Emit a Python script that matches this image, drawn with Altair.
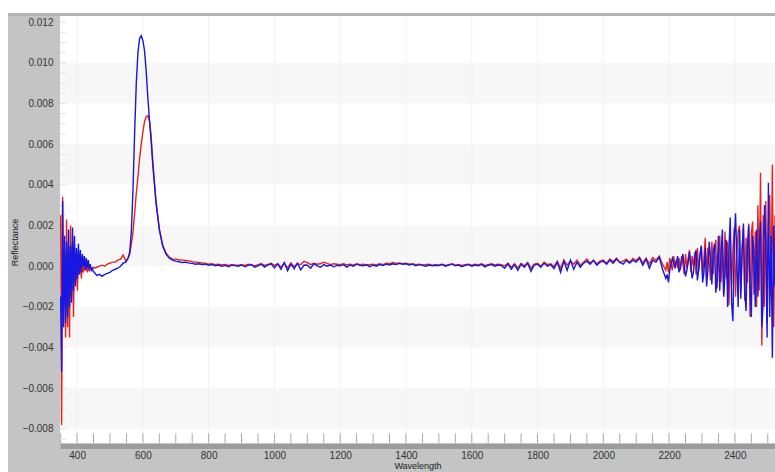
import altair as alt
import pandas as pd

# ---------------- data (reflectance values in units of 1e-5) ----------------
wl_a = list(range(350, 450, 3))          # noisy start
wl_b = list(range(452, 549, 8))          # pre-peak baseline
wl_c = [555, 560, 565, 570, 575, 580, 585, 590, 595, 600, 605, 610, 615, 620,
        625, 630, 640, 650, 660, 670, 680, 690]   # peak
wl_d = list(range(700, 2200, 10))        # flat middle
wl_e = list(range(2194, 2523, 4))        # noisy end

blue_a = [-150, -520, 320, -300, 150, -280, 120, -250, 180, -200,
          100, -180, 190, -120, 150, -100, 90, -60, 110, -40,
          80, -30, 60, 0, 50, -20, 40, -10, 30, -15,
          10, -20, -10, -25]
red_a = [250, -780, 340, -200, 80, -350, 230, -300, 100, -350,
         200, -150, 120, -250, 80, -80, 40, -120, 60, -40,
         30, -60, 20, -30, 10, -20, 0, -30, -10, -20,
         -5, -15, -10, -5]

blue_b = [-30, -45, -40, -50, -40, -35, -30, -20, -15, -10, 0, 15, 20]
red_b = [-10, -5, 0, 5, 0, 10, 15, 20, 20, 30, 35, 55, 25]

blue_c = [40, 70, 170, 380, 660, 900, 1050, 1120, 1133, 1110, 1060, 960, 830, 720,
          620, 500, 310, 180, 100, 60, 40, 30]
red_c = [40, 60, 110, 170, 260, 360, 440, 530, 600, 660, 710, 735, 740, 715,
         640, 520, 320, 185, 105, 65, 45, 35]

blue_d = [25, 22, 18, 20, 15, 14, 10, 12, 8, 10,
          5, 8, 2, 6, 0, 4, -2, 5, 3, 0,
          6, -3, 4, 8, -5, 2, 10, -4, 6, 12,
          -8, 12, -15, 18, -22, 10, -12, 15, -18, 6,
          5, -10, 12, 2, -5, 8, 0, 6, -3, 4,
          2, 8, -4, 6, 0, 10, 4, 2, 7, -2,
          5, 0, 8, 3, 10, 6, 12, 8, 14, 10,
          12, 6, 10, 2, 8, 4, 0, 6, 2, 5,
          3, 8, 0, 5, 10, 2, 6, -2, 4, 8,
          0, 6, 2, 9, -3, 5, 8, 0, 6, 3,
          -10, 12, -15, 8, -20, 10, -5, 15, -25, 5,
          10, -5, 15, 0, 8, -12, 20, -30, 25, -20,
          30, -15, 20, -5, 15, 25, 10, 30, 5, 20,
          25, 10, 30, 15, 35, 20, 10, 28, 15, 30,
          20, 40, 5, 35, -10, 30, 20, 45, -15, -60]
red_d = [35, 32, 30, 28, 26, 22, 20, 18, 16, 14,
         10, 12, 8, 10, 6, 9, 4, 8, 6, 5,
         8, 4, 10, 6, 2, 8, 12, 4, 9, 14,
         4, 12, -4, 14, -8, 16, -2, 12, 8, 24,
         18, 8, 15, 10, 12, 20, 14, 8, 12, 10,
         8, 12, 6, 10, 5, 12, 8, 10, 6, 8,
         10, 6, 12, 8, 15, 12, 18, 14, 16, 12,
         15, 10, 12, 8, 10, 6, 8, 10, 5, 8,
         6, 10, 4, 8, 12, 5, 9, 4, 8, 10,
         5, 10, 6, 12, 4, 8, 12, 6, 10, 8,
         2, 15, -5, 12, -8, 14, 2, 18, -10, 10,
         15, 0, 20, 8, 12, -2, 25, -10, 30, 5,
         25, 10, 30, 5, 20, 35, 15, 28, 12, 25,
         30, 15, 35, 22, 40, 18, 25, 35, 20, 38,
         28, 45, 15, 40, 10, 42, 30, 50, 10, -20]

blue_e = [-40, -80, -20, 10, 40, 20, -10, 20, 50, -30,
          -10, 30, 60, 0, -50, -20, 20, 70, 10, -60,
          -30, 40, 80, -70, -20, 50, 100, -80, -30, 90,
          -100, -20, 120, 40, -90, 70, 110, -130, -60, 150,
          -120, 60, 180, -150, -40, 130, -200, 90, 240, -180,
          -270, 120, 260, 40, -200, 180, -160, 60, 210, -120,
          -220, 90, 200, -100, -250, 150, 60, -200, 180, -150,
          100, 220, -300, -180, 300, 120, -350, 410, -250, 150,
          -450, 200, -100]
red_e = [20, -30, 40, 10, -20, 50, 0, 30, -10, 40,
         -20, 50, 10, -40, 60, -10, 40, 80, -30, 50,
         0, 70, -40, 90, -20, 60, 100, -50, 40, 140,
         -60, 90, 20, -70, 120, -40, 80, 130, -110, 60,
         150, -80, 100, -140, 170, -60, 120, -190, 140, -100,
         80, 190, -150, 60, 170, 200, -120, 90, 190, -170,
         140, -80, 210, -250, 160, 220, -140, 170, -200, 300,
         -120, 460, -390, 250, -200, 320, -280, 200, 350, -150,
         500, -300, 250]

x_ticks = [400, 600, 800, 1000, 1200, 1400, 1600, 1800, 2000, 2200, 2400]
y_ticks = [-0.008, -0.006, -0.004, -0.002, 0.0, 0.002, 0.004, 0.006, 0.008, 0.010, 0.012]
band_lo = [0.008, 0.004, 0.000, -0.004, -0.008]
band_hi = [0.010, 0.006, 0.002, -0.002, -0.006]
x_minor = list(range(350, 2501, 50))
y_minor = [round(-0.0085 + 0.0005 * i, 5) for i in range(42)]

X_DOM = [348, 2522]
Y_DOM = [-0.00869, 0.0123]

wl = wl_a + wl_b + wl_c + wl_d + wl_e
blue = blue_a + blue_b + blue_c + blue_d + blue_e
red = red_a + red_b + red_c + red_d + red_e
assert len(wl) == len(blue) == len(red), (len(wl), len(blue), len(red))

df_blue = pd.DataFrame({"wavelength": wl, "value": [v * 1e-5 for v in blue]})
df_red = pd.DataFrame({"wavelength": wl, "value": [v * 1e-5 for v in red]})
df_bands = pd.DataFrame({"lo": band_lo, "hi": band_hi, "x0": X_DOM[0], "x1": X_DOM[1]})
df_grid = pd.DataFrame({"wavelength": x_ticks})
df_xminor = pd.DataFrame({"wavelength": x_minor, "y0": Y_DOM[0], "y1": -0.00822})
df_yminor = pd.DataFrame({"value": y_minor, "x0": X_DOM[0], "x1": 366})

W, H = 715, 427
FONT = "Liberation Sans"

xscale = alt.Scale(domain=X_DOM, nice=False, zero=False)
yscale = alt.Scale(domain=Y_DOM, nice=False, zero=False)

x_axis = alt.Axis(values=x_ticks, format="d", title="Wavelength", grid=False,
                  ticks=False, domain=True, domainColor="#9c9c9c", domainWidth=5,
                  offset=3, labelPadding=4, labelFontSize=10, labelColor="#333333",
                  labelFont=FONT, titleFont=FONT, titleFontSize=9,
                  titleFontWeight="normal", titleColor="#222222", titlePadding=1)
y_axis = alt.Axis(values=y_ticks, format=".3f", title="Reflectance", grid=False,
                  ticks=False, domain=False, labelPadding=7, labelFontSize=10,
                  labelColor="#333333", labelFont=FONT, titleFont=FONT,
                  titleFontSize=9, titleFontWeight="normal", titleColor="#222222",
                  titlePadding=3, titleY=226)

bands = alt.Chart(df_bands).mark_rect(color="#f7f7f7").encode(
    x=alt.X("x0:Q", scale=xscale, axis=x_axis),
    x2="x1:Q",
    y=alt.Y("lo:Q", scale=yscale, axis=y_axis),
    y2="hi:Q",
)

grid = alt.Chart(df_grid).mark_rule(color="#f1f1f1", strokeWidth=1).encode(
    x=alt.X("wavelength:Q", scale=xscale, axis=x_axis),
)

xminor = alt.Chart(df_xminor).mark_rule(color="#a9a9a9", strokeWidth=1).encode(
    x=alt.X("wavelength:Q", scale=xscale, axis=x_axis),
    y=alt.Y("y0:Q", scale=yscale, axis=y_axis),
    y2="y1:Q",
)

yminor = alt.Chart(df_yminor).mark_rule(color="#e0e0e0", strokeWidth=1).encode(
    x=alt.X("x0:Q", scale=xscale, axis=x_axis),
    x2="x1:Q",
    y=alt.Y("value:Q", scale=yscale, axis=y_axis),
)

red_line = alt.Chart(df_red).mark_line(color="#e8231b", strokeWidth=1.4, clip=True).encode(
    x=alt.X("wavelength:Q", scale=xscale, axis=x_axis),
    y=alt.Y("value:Q", scale=yscale, axis=y_axis),
)
blue_line = alt.Chart(df_blue).mark_line(color="#1717e0", strokeWidth=1.4, clip=True).encode(
    x=alt.X("wavelength:Q", scale=xscale, axis=x_axis),
    y=alt.Y("value:Q", scale=yscale, axis=y_axis),
)

# frame decoration: white margin strip at top/left and darker top bar
frame_white_top = alt.Chart(df_grid.head(1)).mark_rect(color="white").encode(
    x=alt.value(-60), x2=alt.value(W), y=alt.value(-16), y2=alt.value(-3))
frame_white_left = alt.Chart(df_grid.head(1)).mark_rect(color="white").encode(
    x=alt.value(-60), x2=alt.value(-52), y=alt.value(-16), y2=alt.value(H + 29))
frame_top_bar = alt.Chart(df_grid.head(1)).mark_rect(color="#b3b3b3").encode(
    x=alt.value(-52), x2=alt.value(W), y=alt.value(-3), y2=alt.value(0))

chart = alt.layer(
    bands, grid, xminor, yminor, red_line, blue_line,
    frame_white_top, frame_white_left, frame_top_bar,
).properties(
    width=W, height=H,
    autosize=alt.AutoSizeParams(type="none"),
    padding={"left": 60, "top": 16, "right": 0, "bottom": 29},
    background="#c4c4c4",
).configure_view(
    fill="white", stroke=None,
)

chart.save("out.html", embed_options={"renderer": "svg", "actions": False})
